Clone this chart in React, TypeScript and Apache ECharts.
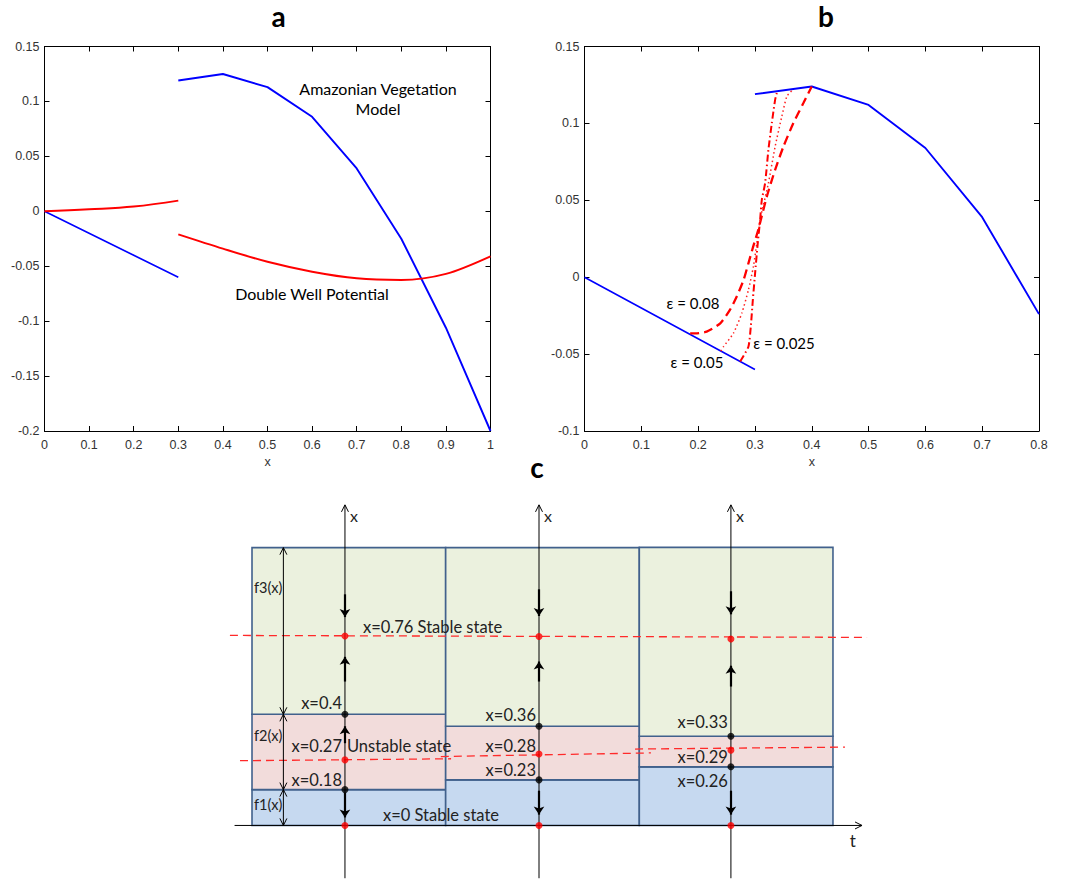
import React, { useEffect, useRef } from 'react';
import * as echarts from 'echarts';

// ---------- Panel a ----------
const aXLeft = [0, 0.1, 0.2, 0.3];
const aBlueLeft = [0, -0.02, -0.04, -0.06];
const aRedLeft = [0, 0.0018, 0.0043, 0.0097];
const aXRight = [0.3, 0.4, 0.5, 0.6, 0.7, 0.8, 0.9, 1.0];
const aBlueRight = [0.119, 0.125, 0.113, 0.086, 0.039, -0.025, -0.106, -0.2];
const aRedRight = [-0.021, -0.034, -0.046, -0.055, -0.061, -0.0625, -0.057, -0.041];

// ---------- Panel b ----------
const bXLeft = [0, 0.1, 0.2, 0.3];
const bBlueLeft = [0, -0.02, -0.04, -0.06];
const bXRight = [0.3, 0.4, 0.5, 0.6, 0.7, 0.8];
const bBlueRight = [0.119, 0.124, 0.112, 0.084, 0.039, -0.024];
const eps008X = [0.186, 0.195, 0.215, 0.239, 0.256, 0.268, 0.28, 0.2885, 0.297, 0.306, 0.3209, 0.3355, 0.3501, 0.3677, 0.3853, 0.4];
const eps008Y = [-0.0365, -0.0365, -0.0354, -0.03, -0.0213, -0.0126, -0.0018, 0.009, 0.02, 0.031, 0.0524, 0.0698, 0.0849, 0.1002, 0.1132, 0.124];
const eps005X = [0.24, 0.2446, 0.2621, 0.2769, 0.2885, 0.2973, 0.3033, 0.3091, 0.3237, 0.3355, 0.3473, 0.3561, 0.365];
const eps005Y = [-0.048, -0.0452, -0.0365, -0.0234, -0.0083, 0.0069, 0.0221, 0.0373, 0.0611, 0.0849, 0.1045, 0.1175, 0.1213];
const eps0025X = [0.274, 0.2885, 0.2927, 0.2963, 0.3003, 0.3044, 0.3091, 0.3121, 0.3179, 0.3237, 0.3297, 0.3355, 0.3385];
const eps0025Y = [-0.0548, -0.0452, -0.0321, -0.0148, 0.0026, 0.0199, 0.0373, 0.0503, 0.0611, 0.0828, 0.1002, 0.1153, 0.1197];

// ---------- Panel c (schematic levels, 0 = t axis, 100 = top of boxes) ----------
const diagramColumns = [0, 1, 2];
const diagramTop = [100, 100, 100.1];
const f2f3Level = [40, 35.7, 32.1];
const f1f2Level = [12.9, 16.4, 21.1];
const stableLevel = [68.2, 68.0, 67.1];
const unstableLevel = [23.6, 25.7, 27.1];
const phaseAxisT = [0.48, 1.482, 2.473];
const upperLabels = ['x=0.4', 'x=0.36', 'x=0.33'];
const upperLabelLevel = [43.9, 39.6, 37.1];
const middleLabels = ['x=0.27', 'x=0.28', 'x=0.29'];
const middleLabelLevel = [28.5, 28.6, 24.6];
const lowerLabels = ['x=0.18', 'x=0.23', 'x=0.26'];
const lowerLabelLevel = [16.4, 20.0, 16.1];
const downArrowF3From = [83.2, 85, 84.3];
const downArrowF3To = [75, 75.4, 76];
const upArrowF3From = [51.8, 51.8, 50];
const upArrowF3To = [60.7, 59, 57.5];
const downArrowF1From = [11.8, 12.5, 12.5];
const downArrowF1To = [2.9, 3.9, 3.9];
const upArrowF2From = [29.6];
const upArrowF2To = [35.7];
const stableLineT = [-0.114, 3.176];
const stableLineLevel = [68.4, 67.7];
const unstableSegT = [[-0.062, 1.028], [0.975, 2.06], [1.978, 3.062]];
const unstableSegLevel = [[23.3, 24.0], [24.8, 26.1], [27.5, 28.2]];
const braceT = 0.162;
const fLabels = ['f3(x)', 'f2(x)', 'f1(x)'];
const fLabelLevel = [85.7, 32.5, 7.5];

const zip = (xs: number[], ys: number[]) => xs.map((x, i) => [x, ys[i]]);
const FONT = 'Lato, "Open Sans", sans-serif';
const fills = ['#C6D9F0', '#F2DCDB', '#EBF1DE'];

type TextSpec = { text: string; t: number; y: number; align: string; dx: number; size: number };
const diagramTexts: TextSpec[] = [];
diagramColumns.forEach((c) => {
  diagramTexts.push({ text: upperLabels[c], t: phaseAxisT[c], y: upperLabelLevel[c], align: 'right', dx: -3, size: 16.5 });
  diagramTexts.push({ text: middleLabels[c], t: phaseAxisT[c], y: middleLabelLevel[c], align: 'right', dx: -3, size: 16.5 });
  diagramTexts.push({ text: lowerLabels[c], t: phaseAxisT[c], y: lowerLabelLevel[c], align: 'right', dx: -3, size: 16.5 });
  diagramTexts.push({ text: 'x', t: phaseAxisT[c], y: 111.5, align: 'left', dx: 5, size: 16 });
});
diagramTexts.push({ text: 'Unstable state', t: phaseAxisT[0], y: middleLabelLevel[0], align: 'left', dx: 2, size: 16.5 });
diagramTexts.push({ text: 'x=0.76 Stable state', t: 0.573, y: 71.4, align: 'left', dx: 0, size: 16.5 });
diagramTexts.push({ text: 'x=0 Stable state', t: 0.676, y: 3.9, align: 'left', dx: 0, size: 16.5 });
fLabels.forEach((f, i) => diagramTexts.push({ text: f, t: 0.01, y: fLabelLevel[i], align: 'left', dx: 0, size: 14.5 }));
diagramTexts.push({ text: 't', t: 3.103, y: -5.4, align: 'center', dx: 0, size: 17 });

const boxX = (gridIndex: number, max: number, position: string, labels: boolean) => ({
  type: 'value', gridIndex, min: 0, max, interval: 0.1, position,
  axisLine: { show: true, onZero: false, lineStyle: { color: '#000', width: 1 } },
  axisTick: { show: true, inside: true, length: 5, lineStyle: { color: '#000' } },
  axisLabel: { show: labels, color: '#333', fontSize: 12.5, fontFamily: 'Liberation Sans, Arial', margin: 7, showMinLabel: true, showMaxLabel: true },
  splitLine: { show: false },
  name: labels ? 'x' : '', nameLocation: 'middle', nameGap: 24,
  nameTextStyle: { color: '#333', fontSize: 12.5, fontFamily: 'Liberation Sans, Arial' },
});
const boxY = (gridIndex: number, min: number, position: string, labels: boolean) => ({
  type: 'value', gridIndex, min, max: 0.15, interval: 0.05, position,
  axisLine: { show: true, onZero: false, lineStyle: { color: '#000', width: 1 } },
  axisTick: { show: true, inside: true, length: 5, lineStyle: { color: '#000' } },
  axisLabel: { show: labels, color: '#333', fontSize: 12.5, fontFamily: 'Liberation Sans, Arial', margin: 5, showMinLabel: true, showMaxLabel: true },
  splitLine: { show: false },
});

const lineSeries = (xi: number, data: number[][], color: string, width: number, extra: any = {}) => ({
  type: 'line', xAxisIndex: xi, yAxisIndex: xi, data, symbol: 'none', showSymbol: false,
  lineStyle: { color, width, ...(extra.lineStyle || {}) }, smooth: extra.smooth || false, z: 3,
});

const arrowHead = (tip: number[], from: number[]) => {
  const dx = tip[0] - from[0], dy = tip[1] - from[1];
  const len = Math.hypot(dx, dy) || 1;
  const ux = dx / len, uy = dy / len, L = 7, W = 3.5;
  return {
    type: 'polyline',
    shape: { points: [[tip[0] - ux * L - uy * W, tip[1] - uy * L + ux * W], [tip[0], tip[1]], [tip[0] - ux * L + uy * W, tip[1] - uy * L - ux * W]] },
    style: { stroke: '#000', fill: 'none', lineWidth: 1 },
  };
};

export default function App() {
  const ref = useRef<HTMLDivElement>(null);
  useEffect(() => {
    const chart = echarts.init(ref.current!, null, { renderer: 'svg' });

    const rectData: number[][] = [];
    diagramColumns.forEach((c) => {
      rectData.push([c, 0, f1f2Level[c], 0]);
      rectData.push([c, f1f2Level[c], f2f3Level[c], 1]);
      rectData.push([c, f2f3Level[c], diagramTop[c], 2]);
    });

    const axisData: number[][] = [];
    diagramColumns.forEach((c) => axisData.push([phaseAxisT[c], -19, phaseAxisT[c], 115.4, 0, 1]));
    axisData.push([-0.09, 0, 3.15, 0, 0, 1]);
    axisData.push([braceT, 0, braceT, f1f2Level[0], 1, 1]);
    axisData.push([braceT, f1f2Level[0], braceT, f2f3Level[0], 1, 1]);
    axisData.push([braceT, f2f3Level[0], braceT, diagramTop[0], 1, 1]);

    const arrowLines: any[] = [];
    diagramColumns.forEach((c) => {
      arrowLines.push({ coords: [[phaseAxisT[c], downArrowF3From[c]], [phaseAxisT[c], downArrowF3To[c]]] });
      arrowLines.push({ coords: [[phaseAxisT[c], upArrowF3From[c]], [phaseAxisT[c], upArrowF3To[c]]] });
      arrowLines.push({ coords: [[phaseAxisT[c], downArrowF1From[c]], [phaseAxisT[c], downArrowF1To[c]]] });
    });
    arrowLines.push({ coords: [[phaseAxisT[0], upArrowF2From[0]], [phaseAxisT[0], upArrowF2To[0]]] });

    const dashedLines: any[] = [{ coords: zip(stableLineT, stableLineLevel) }];
    unstableSegT.forEach((seg, i) => dashedLines.push({ coords: zip(seg, unstableSegLevel[i]) }));

    const redDots: number[][] = [];
    const blackDots: number[][] = [];
    diagramColumns.forEach((c) => {
      redDots.push([phaseAxisT[c], stableLevel[c]], [phaseAxisT[c], unstableLevel[c]], [phaseAxisT[c], 0]);
      blackDots.push([phaseAxisT[c], f2f3Level[c]], [phaseAxisT[c], f1f2Level[c]]);
    });

    const txt = (text: string, x: number, y: number, size: number, bold = false) => ({
      type: 'text', x, y, z: 10,
      style: {
        text, fill: '#000', font: `${bold ? 'bold ' : ''}${size}px ${FONT}`,
        textAlign: 'center', textVerticalAlign: 'middle', align: 'center', verticalAlign: 'middle',
      },
    });

    chart.setOption({
      animation: false,
      backgroundColor: '#fff',
      grid: [
        { left: 44.5, top: 46.5, width: 446, height: 384.5 },
        { left: 584.5, top: 46.5, width: 454.5, height: 384.5 },
        { left: 227.8, top: 503.2, width: 643.9, height: 380.8 },
      ],
      xAxis: [
        boxX(0, 1, 'bottom', true), boxX(0, 1, 'top', false),
        boxX(1, 0.8, 'bottom', true), boxX(1, 0.8, 'top', false),
        { type: 'value', gridIndex: 2, min: -0.125, max: 3.2, show: false },
      ],
      yAxis: [
        boxY(0, -0.2, 'left', true), boxY(0, -0.2, 'right', false),
        boxY(1, -0.1, 'left', true), boxY(1, -0.1, 'right', false),
        { type: 'value', gridIndex: 2, min: -20, max: 116, show: false },
      ],
      graphic: [
        txt('a', 278.5, 16, 28, true),
        txt('b', 826, 16, 28, true),
        txt('c', 537, 467, 28, true),
        txt('Amazonian Vegetation', 378, 88, 16),
        txt('Model', 378, 108, 16),
        txt('Double Well Potential', 312, 293, 16),
        txt('ε = 0.08', 693, 303, 15),
        txt('ε = 0.025', 784, 343, 15),
        txt('ε = 0.05', 697, 362, 15),
      ],
      series: [
        // panel a
        lineSeries(0, zip(aXLeft, aBlueLeft), '#0000FF', 1.6),
        lineSeries(0, zip(aXLeft, aRedLeft), '#FF0000', 2, { smooth: 0.4 }),
        lineSeries(0, zip(aXRight, aBlueRight), '#0000FF', 1.9),
        lineSeries(0, zip(aXRight, aRedRight), '#FF0000', 2, { smooth: 0.3 }),
        // panel b
        lineSeries(2, zip(bXLeft, bBlueLeft), '#0000FF', 1.6),
        lineSeries(2, zip(bXRight, bBlueRight), '#0000FF', 1.9),
        lineSeries(2, zip(eps008X, eps008Y), '#FF0000', 2.3, { smooth: 0.2, lineStyle: { type: [9, 5] } }),
        lineSeries(2, zip(eps005X, eps005Y), '#FF2020', 1.5, { smooth: 0.2, lineStyle: { type: [1.5, 2.8] } }),
        lineSeries(2, zip(eps0025X, eps0025Y), '#FF0000', 2, { smooth: 0.2, lineStyle: { type: [7, 3, 1.5, 3] } }),
        // panel c: boxes
        {
          type: 'custom', xAxisIndex: 4, yAxisIndex: 4, z: 1, clip: false,
          data: rectData,
          renderItem: (params: any, api: any) => {
            const col = api.value(0), lo = api.value(1), hi = api.value(2), k = api.value(3);
            const p1 = api.coord([col, hi]);
            const p2 = api.coord([col + 1, lo]);
            return {
              type: 'rect',
              shape: { x: p1[0], y: p1[1], width: p2[0] - p1[0], height: p2[1] - p1[1] },
              style: { fill: fills[k], stroke: '#41618C', lineWidth: 1.6 },
            };
          },
        },
        // dashed red level lines
        {
          type: 'lines', coordinateSystem: 'cartesian2d', xAxisIndex: 4, yAxisIndex: 4, z: 2,
          data: dashedLines, symbol: 'none',
          lineStyle: { color: '#FF2A2A', width: 1.3, type: [8, 5], opacity: 1 },
        },
        // thin axes and double arrows
        {
          type: 'custom', xAxisIndex: 4, yAxisIndex: 4, z: 3, clip: false,
          data: axisData,
          renderItem: (params: any, api: any) => {
            const p1 = api.coord([api.value(0), api.value(1)]);
            const p2 = api.coord([api.value(2), api.value(3)]);
            const children: any[] = [
              { type: 'line', shape: { x1: p1[0], y1: p1[1], x2: p2[0], y2: p2[1] }, style: { stroke: '#000', lineWidth: 1 } },
            ];
            if (api.value(5)) children.push(arrowHead(p2, p1));
            if (api.value(4)) children.push(arrowHead(p1, p2));
            return { type: 'group', children };
          },
        },
        // bold flow arrows
        {
          type: 'lines', coordinateSystem: 'cartesian2d', xAxisIndex: 4, yAxisIndex: 4, z: 4,
          data: arrowLines, symbol: ['none', 'arrow'], symbolSize: 8,
          lineStyle: { color: '#000', width: 2.2, opacity: 1 },
        },
        {
          type: 'scatter', xAxisIndex: 4, yAxisIndex: 4, z: 5, data: blackDots,
          symbol: 'circle', symbolSize: 7, itemStyle: { color: '#000' },
        },
        {
          type: 'scatter', xAxisIndex: 4, yAxisIndex: 4, z: 5, data: redDots,
          symbol: 'circle', symbolSize: 7, itemStyle: { color: '#FF0000' },
        },
        // diagram texts
        {
          type: 'custom', xAxisIndex: 4, yAxisIndex: 4, z: 6, clip: false,
          data: diagramTexts.map((s) => [s.t, s.y]),
          renderItem: (params: any, api: any) => {
            const s = diagramTexts[params.dataIndex];
            const p = api.coord([api.value(0), api.value(1)]);
            return {
              type: 'text', x: p[0] + s.dx, y: p[1],
              style: {
                text: s.text, fill: '#222', font: `${s.size}px ${FONT}`,
                textAlign: s.align, textVerticalAlign: 'middle', align: s.align, verticalAlign: 'middle',
              },
            };
          },
        },
      ],
    });
    return () => chart.dispose();
  }, []);
  return <div ref={ref} style={{ position: 'fixed', left: 0, top: 0, width: 1083, height: 881, background: '#fff' }} />;
}
